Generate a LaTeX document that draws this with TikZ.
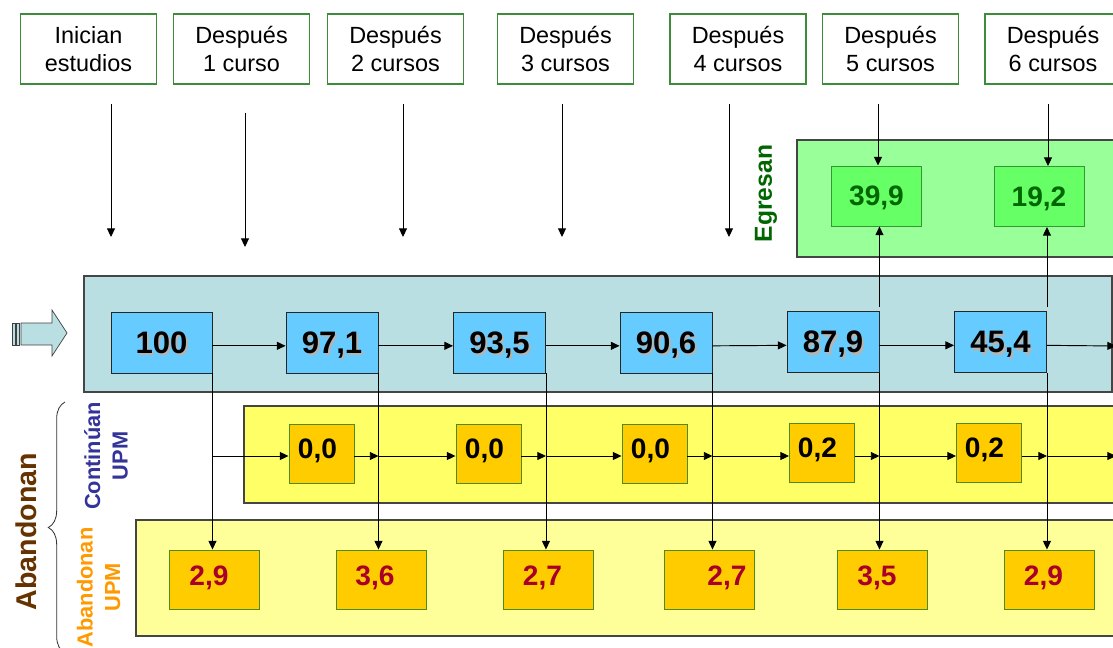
\documentclass[tikz,border=0pt]{standalone}
\usepackage{fontspec}
\setmainfont{Liberation Sans}
\usetikzlibrary{arrows.meta,decorations.pathreplacing,calc}
\definecolor{hdrgreen}{HTML}{3C8C3C}
\definecolor{bandgray}{HTML}{454545}
\definecolor{bandblue}{HTML}{BADFE2}
\definecolor{boxblue}{HTML}{66CCFF}
\definecolor{bandyellow}{HTML}{FFFF66}
\definecolor{bandlight}{HTML}{FFFF99}
\definecolor{boxorange}{HTML}{FFCC00}
\definecolor{oborder}{HTML}{4D8C1A}
\definecolor{bandgreen}{HTML}{99FF99}
\definecolor{boxgreen}{HTML}{66FF66}
\definecolor{gborder}{HTML}{339933}
\definecolor{darkgreen}{HTML}{006600}
\definecolor{numred}{HTML}{A8002A}
\definecolor{abbrown}{HTML}{663300}
\definecolor{contblue}{HTML}{333399}
\definecolor{aborange}{HTML}{FF9900}
\definecolor{shadowgray}{HTML}{B4B4B4}
\begin{document}
\begin{tikzpicture}[x=0.03cm, y=-0.03cm,
  arr/.style={draw=black, line width=0.8pt, -{Triangle[length=2.6mm,width=2.4mm]}},
  ln/.style={draw=black, line width=0.8pt},
  band/.style={draw=bandgray, line width=1.1pt},
  hdr/.style={draw=hdrgreen, line width=0.9pt, fill=white, minimum width=136*0.03cm, minimum height=70*0.03cm, align=center, inner sep=0pt, font=\fontsize{20}{24.5}\selectfont},
  bluebox/.style={draw=black!85, fill=boxblue, line width=0.8pt, minimum width=92*0.03cm, minimum height=61*0.03cm, inner sep=0pt},
  bnum/.style={inner sep=0pt, text depth=0pt, font=\bfseries\fontsize{26.5}{30}\selectfont},
  midbox/.style={draw=oborder, fill=boxorange, line width=0.8pt, minimum width=65*0.03cm, minimum height=59*0.03cm, inner sep=0pt},
  mnum/.style={inner sep=0pt, text depth=0pt, font=\bfseries\fontsize{24}{28}\selectfont},
  abox/.style={draw=oborder, fill=boxorange, line width=0.8pt, minimum width=90*0.03cm, minimum height=59*0.03cm, inner sep=0pt},
  rnum/.style={inner sep=0pt, text depth=0pt, text=numred, font=\bfseries\fontsize{24}{28}\selectfont},
  gbox/.style={draw=gborder, fill=boxgreen, line width=0.8pt, minimum width=90*0.03cm, minimum height=60*0.03cm, inner sep=0pt, text=darkgreen, text depth=0pt, font=\bfseries\fontsize{24}{28}\selectfont},
  sidelab/.style={rotate=90, inner sep=0pt, align=center, font=\bfseries\fontsize{18.6}{23.5}\selectfont}
]
\useasboundingbox (0,0) rectangle (1113,648);
\clip (0,0) rectangle (1113,648);

% bands
\draw[band, fill=bandgreen] (797,140) rectangle (1130,257);
\draw[band, fill=bandblue] (84,276) rectangle (1112,392);
\draw[band, fill=bandyellow] (244,406) rectangle (1130,503);
\draw[band, fill=bandlight] (136,520) rectangle (1130,636);

% headers
\node[hdr] (h1) at (88.5,49) {Inician\\estudios};
\node[hdr] (h2) at (241.5,49) {Después\\1 curso};
\node[hdr] (h3) at (395.5,49) {Después\\2 cursos};
\node[hdr] (h4) at (565.5,49) {Después\\3 cursos};
\node[hdr] (h5) at (738,49) {Después\\4 cursos};
\node[hdr] (h6) at (890.5,49) {Después\\5 cursos};
\node[hdr] (h7) at (1053,49) {Después\\6 cursos};

% egresan boxes
\node[gbox] (e1) at (876.5,196) {39,9};
\node[gbox] (e2) at (1039,196.5) {19,2};
\node[rotate=90, inner sep=0pt, text=darkgreen, font=\bfseries\fontsize{21}{25}\selectfont] (legr) at (766,193.5) {Egresan};

% blue boxes
\node[bluebox, minimum width=101*0.03cm] (b1) at (161.5,342.5) {};
\node[bluebox] (b2) at (332,342.5) {};
\node[bluebox] (b3) at (499.5,342.5) {};
\node[bluebox] (b4) at (666,342.5) {};
\node[bluebox] (b5) at (833,342) {};
\node[bluebox] (b6) at (1000.5,342) {};
\foreach \n/\t in {1/100,2/{97,1},3/{93,5},4/{90,6},5/{87,9},6/{45,4}}{
  \node[bnum, text=shadowgray] (bs\n) at ($(b\n)+(2,2.5)$) {\t};
  \node[bnum] (bt\n) at (b\n) {\t};
}

% middle orange boxes
\node[midbox] (c1) at (321.5,453.5) {};
\node[midbox] (c2) at (488.5,453.5) {};
\node[midbox] (c3) at (654.5,453.5) {};
\node[midbox] (c4) at (822,453) {};
\node[midbox] (c5) at (989,453) {};
\node[mnum] (ct1) at (317.5,448.5) {0,0};
\node[mnum] (ct2) at (484.5,448.5) {0,0};
\node[mnum] (ct3) at (650.5,448.5) {0,0};
\node[mnum] (ct4) at (817.5,448) {0,2};
\node[mnum] (ct5) at (984.5,448) {0,2};

% bottom orange boxes
\node[abox] (d1) at (214,579.5) {};
\node[abox] (d2) at (381.5,579.5) {};
\node[abox] (d3) at (548,579.5) {};
\node[abox] (d4) at (709,579.5) {};
\node[abox] (d5) at (882,579.5) {};
\node[abox] (d6) at (1049,579.5) {};
\node[rnum] (dt1) at (209,576) {2,9};
\node[rnum] (dt2) at (375,576) {3,6};
\node[rnum] (dt3) at (542.5,576) {2,7};
\node[rnum] (dt4) at (727,576) {2,7};
\node[rnum] (dt5) at (877,576) {3,5};
\node[rnum] (dt6) at (1043.5,576) {2,9};

% header arrows
\coordinate (s1) at (111,104); \coordinate (t1) at (111,237);
\coordinate (s2) at (245,113); \coordinate (t2) at (245,247);
\coordinate (s3) at (403,104); \coordinate (t3) at (403,237);
\coordinate (s4) at (562,104); \coordinate (t4) at (562,237);
\coordinate (s5) at (729,104); \coordinate (t5) at (729,237);
\coordinate (s6) at (878,104);
\coordinate (s7) at (1048,104);
\foreach \i in {1,...,5}{\draw[arr] (s\i) -- (t\i);}
\draw[arr] (s6) -- (s6 |- e1.north);
\draw[arr] (s7) -- (s7 |- e2.north);

% blue row arrows
\coordinate (r1) at (1116,346);
\foreach \i/\j in {1/2,2/3,3/4,4/5,5/6}{
  \draw[arr] ([yshift=-0.1cm]b\i.east) -- ([yshift=-0.1cm]b\j.west);
}
\draw[arr] ([yshift=-0.1cm]b6.east) -- (r1);

% up arrows to egresan
\draw[arr] ([yshift=0.12cm]b5.north east) -- (b5.north east |- e1.south);
\draw[arr] ([yshift=0.12cm]b6.north east) -- (b6.north east |- e2.south);

% down arrows to abandonan
\foreach \i in {1,...,6}{
  \draw[arr] (b\i.south east) -- (b\i.south east |- d\i.north);
}

% middle row arrows
\coordinate (r2) at (1116,456);
\draw[arr] (b1.east |- 0,456) -- (c1.west |- 0,456);
\foreach \i/\j in {1/2,2/3,3/4,4/5}{
  \draw[arr] (c\i.east |- 0,456) -- (b\j.east |- 0,456);
  \draw[arr] (b\j.east |- 0,456) -- (c\j.west |- 0,456);
}
\draw[arr] (c5.east |- 0,456) -- (b6.east |- 0,456);
\draw[arr] (b6.east |- 0,456) -- (r2);

% entry block arrow
\draw[draw=black!75, line width=0.6pt, fill=bandblue] (21,323) -- (52,323) -- (52,310) -- (67,333) -- (52,356) -- (52,345) -- (21,345) -- cycle;
\draw[draw=black!75, line width=0.6pt, fill=bandblue] (12,323) rectangle (15,345);
\draw[draw=black!75, line width=0.6pt, fill=bandblue] (16.5,323) rectangle (19.5,345);

% side labels
\node[rotate=90, inner sep=0pt, text depth=0pt, text=abbrown, font=\bfseries\fontsize{24.4}{28}\selectfont] (labA) at (26,531.5) {Abandonan};
\draw[draw=black!80, line width=0.7pt, decorate, decoration={brace, amplitude=0.5cm}] (65,653) -- (65,402);
\node[sidelab, text=contblue] (labC) at (106,456) {Continúan\\UPM};
\node[sidelab, text=aborange] (labU) at (98.5,587.5) {Abandonan\\UPM};
\end{tikzpicture}
\end{document}
